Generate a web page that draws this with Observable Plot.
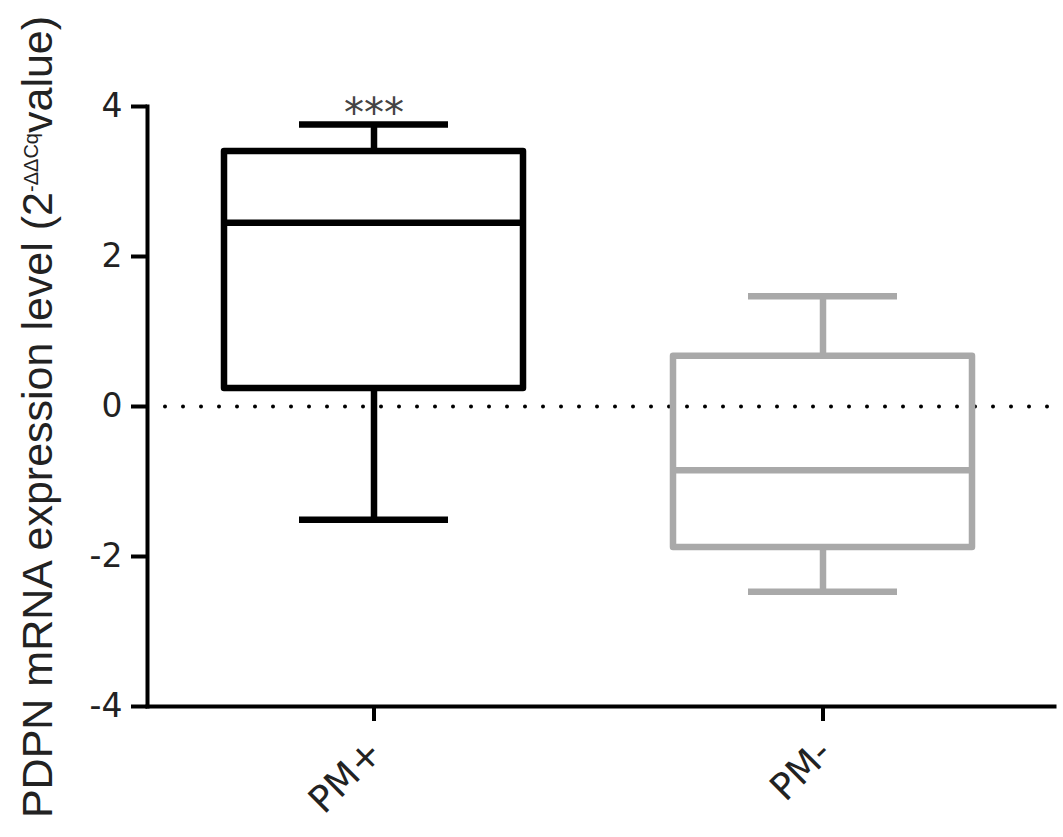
<!DOCTYPE html>
<html>
<head>
<meta charset="utf-8">
<script src="https://cdn.jsdelivr.net/npm/d3@7"></script>
<script src="https://cdn.jsdelivr.net/npm/@observablehq/plot@0.6"></script>
<style>
  html, body { margin: 0; padding: 0; background: #fff; }
  #chart { width: 1063px; height: 837px; }
</style>
</head>
<body>
<div id="chart"></div>
<script>
// Data (box plot summary per group)
const groups = ["PM+", "PM-"];
const whiskerMin = [-1.51, -2.47];
const q1 = [0.24, -1.88];
const median = [2.45, -0.85];
const q3 = [3.40, 0.67];
const whiskerMax = [3.76, 1.47];
const groupColors = ["#000000", "#a9a9a9"];
const yTicks = [-4, -2, 0, 2, 4];
const significance = [{group: "PM+", label: "***"}];

const rows = groups.map((g, i) => ({
  group: g, min: whiskerMin[i], q1: q1[i], median: median[i], q3: q3[i], max: whiskerMax[i], color: groupColors[i]
}));

const sw = 6.5;
const tickFont = '"DejaVu Sans", Verdana, sans-serif';
const titleFont = '"Liberation Sans", Arial, Helvetica, sans-serif';
const plot = Plot.plot({
  width: 1063,
  height: 837,
  marginLeft: 147,
  marginRight: 9,
  marginTop: 106,
  marginBottom: 131,
  style: {background: "#fff"},
  x: {domain: groups, paddingInner: 1/3, paddingOuter: 0.17, insetRight: 5, label: null},
  y: {domain: [-4, 4], label: null},
  marks: [
    // zero reference line (dotted)
    Plot.ruleY([0], {stroke: "#000", strokeWidth: 4, strokeDasharray: "0,18", strokeLinecap: "round"}),
    // whiskers
    Plot.ruleX(rows, {x: "group", y1: "q3", y2: "max", stroke: "color", strokeWidth: sw}),
    Plot.ruleX(rows, {x: "group", y1: "min", y2: "q1", stroke: "color", strokeWidth: sw}),
    Plot.tickY(rows, {x: "group", y: "max", stroke: "color", strokeWidth: sw, insetLeft: 75, insetRight: 75}),
    Plot.tickY(rows, {x: "group", y: "min", stroke: "color", strokeWidth: sw, insetLeft: 75, insetRight: 75}),
    // boxes
    Plot.barY(rows, {x: "group", y1: "q1", y2: "q3", fill: "none", stroke: "color", strokeWidth: sw, strokeLinejoin: "round"}),
    Plot.tickY(rows, {x: "group", y: "median", stroke: "color", strokeWidth: sw}),
    // significance
    Plot.text(significance, {x: "group", y: () => 4, text: "label", fontSize: 40, fontFamily: tickFont, fill: "#444", dy: 8}),
    // axes (ticks only; labels drawn as text marks below)
    Plot.axisY({ticks: yTicks, tickSize: 16, tickFormat: () => "", strokeWidth: 4, color: "#000"}),
    Plot.axisX({tickSize: 15, tickFormat: () => "", strokeWidth: 4, label: null}),
    Plot.text(yTicks, {y: d => d, text: d => String(d), frameAnchor: "left", textAnchor: "end", lineAnchor: "middle", dx: -25, fontSize: 33, fontFamily: tickFont, fill: "#222"}),
    Plot.text(groups, {x: d => d, text: d => d, frameAnchor: "bottom", textAnchor: "end", lineAnchor: "middle", rotate: -45, dx: 2, dy: 40, fontSize: 37, fontFamily: tickFont, fill: "#222"}),
    Plot.frame({anchor: "left", strokeWidth: 4}),
    Plot.frame({anchor: "bottom", strokeWidth: 4})
  ]
});

document.getElementById("chart").appendChild(plot);

// Y axis title with superscript
const svg = d3.select(plot);
const t = svg.append("text")
  .attr("transform", "translate(52,417) rotate(-90)")
  .attr("text-anchor", "middle")
  .style("font-family", titleFont)
  .style("font-size", "43px")
  .attr("fill", "#222");
t.append("tspan").text("PDPN mRNA expression level (2");
t.append("tspan").style("font-size", "20px").attr("dy", -14).text("-ΔΔCq");
t.append("tspan").attr("dy", 14).text("value)");
</script>
</body>
</html>
